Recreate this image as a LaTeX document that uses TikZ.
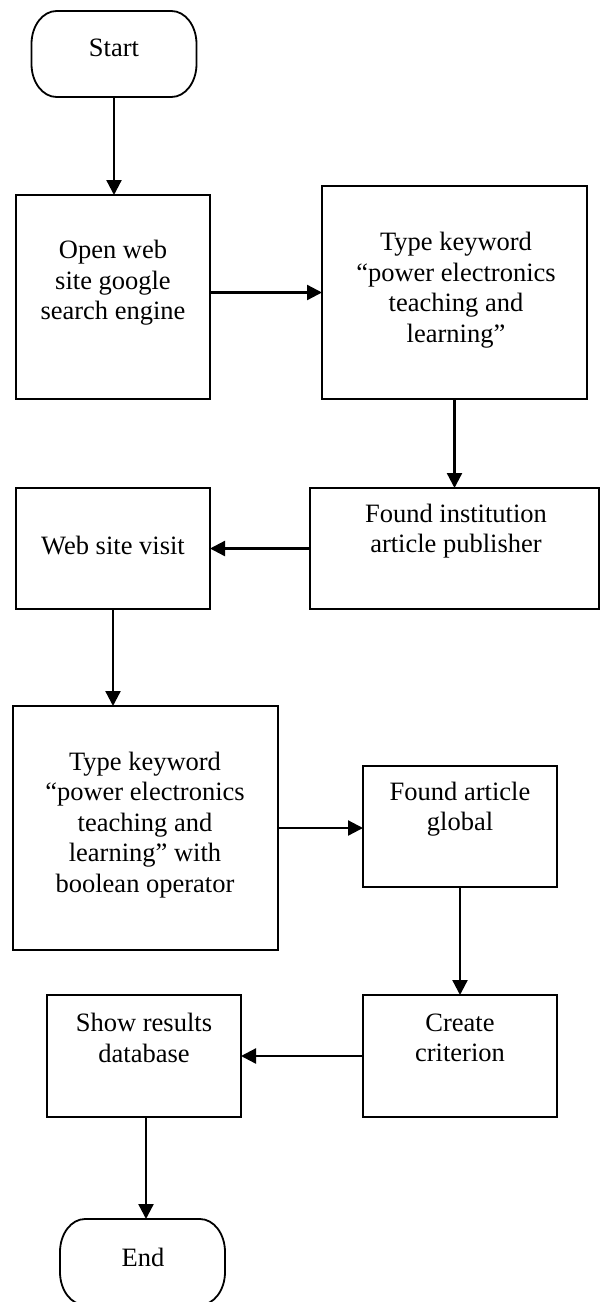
\documentclass[tikz,border=0pt]{standalone}
\usepackage{fontspec}
\setmainfont{Liberation Serif}
\usetikzlibrary{arrows.meta}
\begin{document}
\begin{tikzpicture}[x=1pt,y=-1pt,
  box/.style={draw,line width=1.8pt,inner sep=0pt,outer sep=0pt},
  term/.style={inner sep=0pt,outer sep=0pt,minimum width=165pt,minimum height=86pt},
  termline/.style={line width=1.8pt},
  txt/.style={align=center,inner sep=0pt,font=\fontsize{26.5}{30.5}\selectfont},
  arr/.style={line width=2.3pt,-{Triangle[length=15pt,width=15pt]}}]
\useasboundingbox (0,0) rectangle (601,1302);
% shapes
\node[term] (start) at (114,54) {};
\draw[termline] ([xshift=25pt]start.north west) -- ([xshift=-25pt]start.north east)
  arc[start angle=90,end angle=0,x radius=25pt,y radius=33pt]
  -- ([yshift=33pt]start.south east)
  arc[start angle=0,end angle=-90,x radius=25pt,y radius=33pt]
  -- ([xshift=25pt]start.south west)
  arc[start angle=270,end angle=180,x radius=25pt,y radius=33pt]
  -- ([yshift=-33pt]start.north west)
  arc[start angle=180,end angle=90,x radius=25pt,y radius=33pt] -- cycle;
\node[box,minimum width=194pt,minimum height=204pt] (b1) at (113,297) {};
\node[box,minimum width=265pt,minimum height=213pt] (b2) at (454.5,292.5) {};
\node[box,minimum width=289pt,minimum height=121pt] (b3) at (454.5,548.5) {};
\node[box,minimum width=194pt,minimum height=121pt] (b4) at (113,548.5) {};
\node[box,minimum width=265pt,minimum height=244pt] (b5) at (145.5,828) {};
\node[box,minimum width=194pt,minimum height=121pt] (b6) at (460,826.5) {};
\node[box,minimum width=194pt,minimum height=122pt] (b7) at (460,1056) {};
\node[box,minimum width=194pt,minimum height=122pt] (b8) at (144,1056) {};
\node[term] (end) at (142.5,1262) {};
\draw[termline] ([xshift=25pt]end.north west) -- ([xshift=-25pt]end.north east)
  arc[start angle=90,end angle=0,x radius=25pt,y radius=33pt]
  -- ([yshift=33pt]end.south east)
  arc[start angle=0,end angle=-90,x radius=25pt,y radius=33pt]
  -- ([xshift=25pt]end.south west)
  arc[start angle=270,end angle=180,x radius=25pt,y radius=33pt]
  -- ([yshift=-33pt]end.north west)
  arc[start angle=180,end angle=90,x radius=25pt,y radius=33pt] -- cycle;
% texts
\node[txt] (tstart) at (114,48) {Start};
\node[txt] (t1) at (113,283) {Open web\\site google\\search engine};
\node[txt] (t2) at (456,290) {Type keyword\\“power electronics\\teaching and\\learning”};
\node[txt] (t3) at (456,531) {Found institution\\article publisher};
\node[txt] (t4) at (113,545) {Web site visit};
\node[txt] (t5) at (145,825) {Type keyword\\“power electronics\\teaching and\\learning” with\\boolean operator};
\node[txt] (t6) at (460,809) {Found article\\global};
\node[txt] (t7) at (460,1038) {Create\\criterion};
\node[txt] (t8) at (144,1038) {Show results\\database};
\node[txt] (tend) at (143,1257) {End};
% connectors
\draw[arr] (start.south) -- (start.south |- b1.north);
\draw[arr] (b1.east |- b2.west) -- (b2.west);
\draw[arr] (b2.south) -- (b2.south |- b3.north);
\draw[arr] (b3.west) -- (b4.east);
\draw[arr] (b4.south) -- (b4.south |- b5.north);
\draw[arr] (b5.east) -- (b5.east -| b6.west);
\draw[arr] (b6.south) -- (b6.south |- b7.north);
\draw[arr] (b7.west) -- (b8.east);
\draw[arr] ([xshift=2pt]b8.south) -- ([xshift=2pt]b8.south |- end.north);
\end{tikzpicture}
\end{document}
